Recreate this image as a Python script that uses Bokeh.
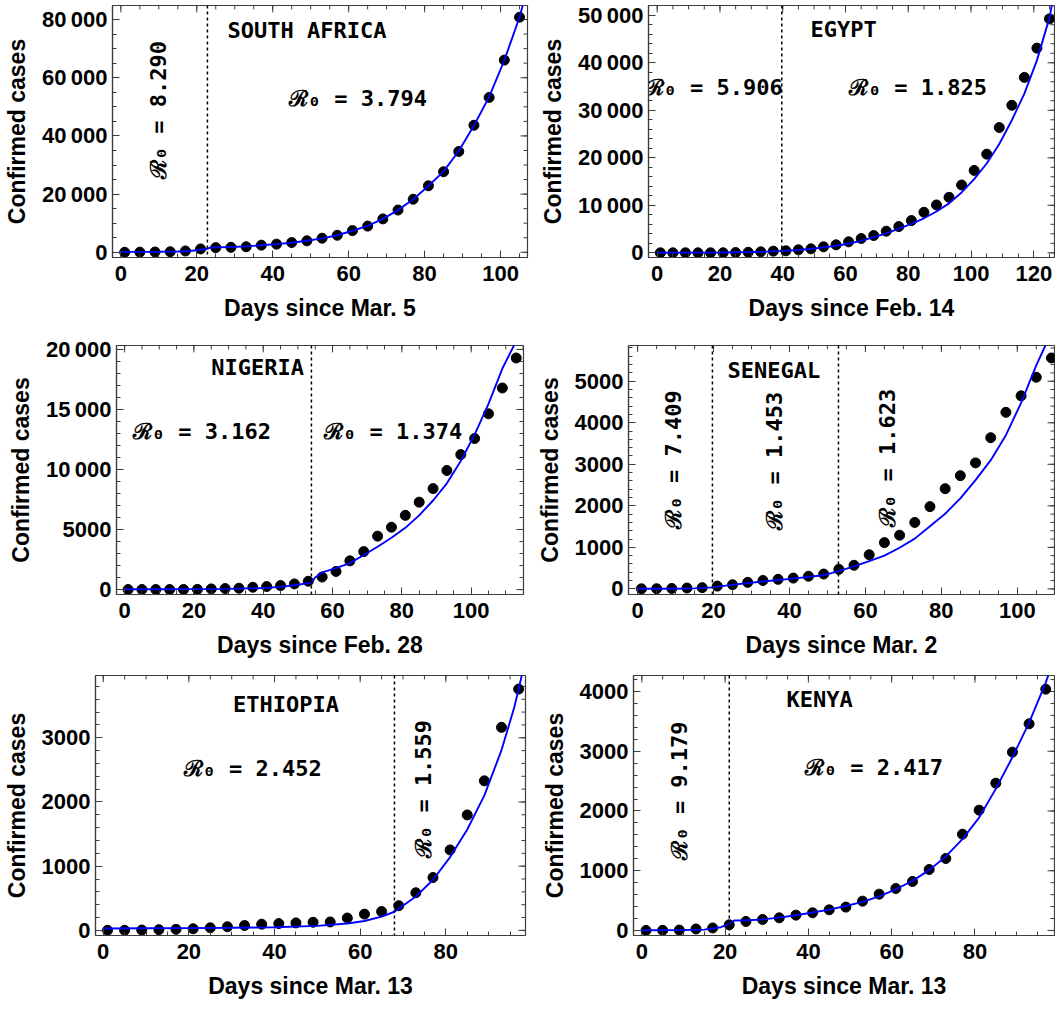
from math import pi
from bokeh.plotting import figure
from bokeh.models import FixedTicker, Span, Range1d
from bokeh.layouts import column, row
from bokeh.embed import file_html
from bokeh.resources import INLINE
from bokeh.core.properties import value

# ---------------- data ----------------
SA_DAYS = [1, 5, 9, 13, 17, 21, 25, 29, 33, 37, 41, 45, 49, 53, 57, 61, 65, 69, 73, 77, 81, 85, 89, 93, 97, 101, 105]
SA_CASES = [10, 40, 100, 200, 450, 1150, 1600, 1700, 1900, 2450, 2800, 3350, 3940, 4850, 5850, 7450, 9000, 11480,
            14520, 18230, 22840, 27680, 34650, 43660, 53220, 66050, 80790]
SA_FIT_DAYS = [0, 10, 15, 18, 20, 22.8, 23.5, 25, 29, 33, 37, 41, 45, 49, 53, 57, 61, 65, 69, 73, 77, 81, 85, 89,
               93, 97, 101, 105, 106.5]
SA_FIT = [150, 180, 280, 450, 700, 1200, 1650, 1700, 1800, 2050, 2400, 2800, 3300, 3950, 4800, 5850, 7400, 9050,
          11500, 14500, 18200, 22800, 27800, 34800, 43600, 53400, 66000, 80800, 88000]
SA_SPLITS = [22.8]

EG_DAYS = [1, 5, 9, 13, 17, 21, 25, 29, 33, 37, 41, 45, 49, 53, 57, 61, 65, 69, 73, 77, 81, 85, 89, 93, 97, 101,
           105, 109, 113, 117, 121, 125]
EG_CASES = [1, 1, 1, 1, 1, 15, 59, 110, 210, 350, 420, 630, 840, 1260, 1680, 2310, 3010, 3640, 4550, 5520, 6780,
            8530, 10070, 11680, 14270, 17340, 20770, 26360, 31050, 36920, 43080, 49230]
EG_FIT_DAYS = [0, 10, 20, 30, 35, 39.7, 45, 50, 55, 60, 65, 69, 73, 77, 81, 85, 89, 93, 97, 101, 105, 109, 113,
               117, 121, 125, 126]
EG_FIT = [20, 40, 80, 170, 260, 400, 600, 900, 1300, 1800, 2500, 3290, 4100, 5100, 6100, 7270, 8700, 10400, 12700,
          15500, 18800, 22900, 27900, 33500, 40500, 49500, 53000]
EG_SPLITS = [39.7]

NG_DAYS = [1, 5, 9, 13, 17, 21, 25, 29, 33, 37, 41, 45, 49, 53, 57, 61, 65, 69, 73, 77, 81, 85, 89, 93, 97, 101,
           105, 109, 113]
NG_CASES = [1, 1, 1, 2, 8, 12, 55, 82, 110, 190, 250, 330, 470, 690, 1040, 1510, 2390, 3160, 4450, 5190, 6180,
            7280, 8410, 9920, 11240, 12580, 14640, 16790, 19290]
NG_FIT_DAYS = [0, 10, 20, 30, 40, 45, 50, 53.9, 55, 57, 61, 65, 69, 73, 77, 81, 85, 89, 93, 97, 101, 105, 109,
               113, 114]
NG_FIT = [20, 25, 35, 60, 130, 220, 400, 580, 1000, 1430, 1790, 2200, 2880, 3570, 4310, 5140, 6180, 7420, 8850,
          10710, 12910, 15470, 18410, 20700, 21400]
NG_SPLITS = [53.9]

SN_DAYS = [1, 5, 9, 13, 17, 21, 25, 29, 33, 37, 41, 45, 49, 53, 57, 61, 65, 69, 73, 77, 81, 85, 89, 93, 97, 101,
           105, 109]
SN_CASES = [1, 4, 10, 20, 30, 67, 100, 157, 202, 230, 260, 305, 358, 470, 568, 822, 1114, 1293, 1600, 1981, 2413,
            2726, 3034, 3640, 4251, 4648, 5096, 5560]
SN_FIT_DAYS = [0, 10, 15, 19.7, 24.7, 32.9, 40.9, 48.9, 52.9, 56.8, 61, 65, 69, 73, 77, 81, 85, 89, 93, 97, 101,
               105, 107.4, 108.5]
SN_FIT = [2, 5, 12, 36, 96, 179, 247, 327, 426, 538, 670, 800, 990, 1210, 1510, 1810, 2180, 2620, 3100, 3700,
          4480, 5380, 5860, 6200]
SN_SPLITS = [19.7, 52.9]

ET_DAYS = [1, 5, 9, 13, 17, 21, 25, 29, 33, 37, 41, 45, 49, 53, 57, 61, 65, 69, 73, 77, 81, 85, 89, 93, 97]
ET_CASES = [1, 1, 5, 10, 16, 25, 40, 56, 76, 96, 106, 116, 126, 131, 192, 253, 293, 384, 586, 823, 1253, 1798,
            2329, 3162, 3758]
ET_FIT_DAYS = [0, 10, 20, 30, 40, 50, 57, 61, 65, 68, 73, 77, 81, 85, 89, 93, 96, 97, 98]
ET_FIT = [30, 32, 35, 40, 48, 70, 106, 146, 215, 290, 526, 788, 1141, 1571, 2102, 2808, 3480, 3760, 4050]
ET_SPLITS = [68]

KE_DAYS = [1, 5, 9, 13, 17, 21, 25, 29, 33, 37, 41, 45, 49, 53, 57, 61, 65, 69, 73, 77, 81, 85, 89, 93, 97]
KE_CASES = [1, 3, 7, 25, 42, 95, 151, 184, 212, 257, 296, 346, 391, 491, 608, 703, 820, 1021, 1205, 1612, 2014,
            2466, 2985, 3459, 4039]
KE_FIT_DAYS = [0, 10, 15, 19, 21, 22.2, 25, 29, 33, 37, 41, 45, 49, 53, 57, 61, 65, 69, 73, 77, 81, 85, 89, 93,
               97, 98]
KE_FIT = [5, 8, 15, 55, 112, 167, 170, 185, 215, 255, 300, 350, 410, 480, 570, 690, 830, 1010, 1240, 1530, 1890,
          2370, 2900, 3480, 4150, 4350]
KE_SPLITS = [21]

TS = "\u2009"
SA_YTICKS = [0, 20000, 40000, 60000, 80000]
SA_YLABELS = ["0", "20" + TS + "000", "40" + TS + "000", "60" + TS + "000", "80" + TS + "000"]
EG_YTICKS = [0, 10000, 20000, 30000, 40000, 50000]
EG_YLABELS = ["0", "10" + TS + "000", "20" + TS + "000", "30" + TS + "000", "40" + TS + "000", "50" + TS + "000"]
NG_YTICKS = [0, 5000, 10000, 15000, 20000]
NG_YLABELS = ["0", "5000", "10" + TS + "000", "15" + TS + "000", "20" + TS + "000"]
SN_YTICKS = [0, 1000, 2000, 3000, 4000, 5000]
SN_YLABELS = ["0", "1000", "2000", "3000", "4000", "5000"]
ET_YTICKS = [0, 1000, 2000, 3000]
ET_YLABELS = ["0", "1000", "2000", "3000"]
KE_YTICKS = [0, 1000, 2000, 3000, 4000]
KE_YLABELS = ["0", "1000", "2000", "3000", "4000"]
X_TICKS_120 = [0, 20, 40, 60, 80, 100, 120]
X_TICKS_100 = [0, 20, 40, 60, 80, 100]
X_TICKS_80 = [0, 20, 40, 60, 80]

R0 = "\u211B\u2080 = "

# ---------------- styling ----------------
FRAME = "#3c3c3c"
AXIS_FONT = "Liberation Sans"
MONO = "DejaVu Sans Mono"
MAJ_LEN = 7
MIN_LEN = 4


def minor_list(lo, hi, step):
    out = []
    v = lo
    while v <= hi + 1e-9:
        out.append(v)
        v += step
    return out


def style_axis(ax, ticker, labels, is_x):
    ax.ticker = ticker
    ax.axis_line_color = FRAME
    ax.axis_line_width = 1.2
    ax.major_tick_line_color = FRAME
    ax.minor_tick_line_color = FRAME
    ax.major_tick_in = MAJ_LEN
    ax.major_tick_out = 0
    ax.minor_tick_in = MIN_LEN
    ax.minor_tick_out = 0
    ax.major_label_text_font = AXIS_FONT
    ax.major_label_text_font_style = "bold"
    ax.major_label_text_font_size = "22px"
    ax.major_label_text_color = "black"
    ax.major_label_standoff = 8 if is_x else 5
    ax.axis_label_text_font = AXIS_FONT
    ax.axis_label_text_font_style = "bold"
    ax.axis_label_text_font_size = "23px"
    ax.axis_label_text_color = "black"
    ax.axis_label_standoff = 11 if is_x else 9
    ax.major_label_overrides = labels


def make_panel(width, height, borders, xr, yr, days, cases, fit_days, fit_vals, splits,
               xticks, xminor, yticks, ylabels, yminor, xlabel, texts):
    left, right, top, bottom = borders
    p = figure(width=width, height=height, x_range=Range1d(*xr), y_range=Range1d(*yr),
               output_backend="svg", toolbar_location=None, title=None,
               min_border_left=left, min_border_right=right, min_border_top=top, min_border_bottom=bottom,
               x_axis_label=xlabel, y_axis_label="Confirmed cases")
    p.xgrid.visible = False
    p.ygrid.visible = False
    p.outline_line_color = FRAME
    p.outline_line_width = 1.2
    p.background_fill_color = "white"
    p.border_fill_color = "white"

    xl = {float(v): str(v) for v in xticks}
    yl = {float(v): s for v, s in zip(yticks, ylabels)}
    style_axis(p.xaxis[0], FixedTicker(ticks=xticks, minor_ticks=xminor), xl, True)
    style_axis(p.yaxis[0], FixedTicker(ticks=yticks, minor_ticks=yminor), yl, False)

    # mirrored inward ticks on the top and right edges of the frame
    fw = width - left - right
    fh = height - top - bottom
    dxp = (xr[1] - xr[0]) / fw
    dyp = (yr[1] - yr[0]) / fh
    tx = [t for t in xminor if xr[0] < t < xr[1]]
    p.segment(x0=tx, y0=[yr[1]] * len(tx), x1=tx, y1=[yr[1] - MIN_LEN * dyp] * len(tx),
              line_color=FRAME, line_width=1)
    tx = [t for t in xticks if xr[0] < t < xr[1]]
    p.segment(x0=tx, y0=[yr[1]] * len(tx), x1=tx, y1=[yr[1] - MAJ_LEN * dyp] * len(tx),
              line_color=FRAME, line_width=1)
    ty = [t for t in yminor if yr[0] < t < yr[1]]
    p.segment(x0=[xr[1]] * len(ty), y0=ty, x1=[xr[1] - MIN_LEN * dxp] * len(ty), y1=ty,
              line_color=FRAME, line_width=1)
    ty = [t for t in yticks if yr[0] < t < yr[1]]
    p.segment(x0=[xr[1]] * len(ty), y0=ty, x1=[xr[1] - MAJ_LEN * dxp] * len(ty), y1=ty,
              line_color=FRAME, line_width=1)

    for s in splits:
        p.add_layout(Span(location=s, dimension="height", line_color="black", line_width=1.5,
                          line_dash="3 3"))

    p.scatter(days, cases, size=10, color="black")
    p.line(fit_days, fit_vals, line_color="#0000ff", line_width=1.9)

    for (tx_, ty_, txt, rot) in texts:
        p.text(x=[tx_], y=[ty_], text=[txt], angle=(pi / 2 if rot else 0),
               text_align="center", text_baseline="middle",
               text_font=value(MONO), text_font_style="bold", text_font_size="22px",
               text_color="black")
    return p


p1 = make_panel(530, 325, (112, 3, 0, 68), (-2.2, 107.1), (-1790, 84820),
                SA_DAYS, SA_CASES, SA_FIT_DAYS, SA_FIT, SA_SPLITS,
                X_TICKS_100, minor_list(0, 105, 5), SA_YTICKS, SA_YLABELS, minor_list(0, 80000, 5000),
                "Days since Mar. 5",
                [(49.0, 76100, "SOUTH AFRICA", False), (62.4, 52850, R0 + "3.794", False),
                 (9.8, 48900, R0 + "8.290", True)])

p2 = make_panel(525, 325, (118, 1, 5, 67), (-2.77, 126.6), (-986, 52050),
                EG_DAYS, EG_CASES, EG_FIT_DAYS, EG_FIT, EG_SPLITS,
                X_TICKS_120, minor_list(0, 125, 5), EG_YTICKS, EG_YLABELS, minor_list(0, 52000, 2000),
                "Days since Feb. 14",
                [(59.4, 46930, "EGYPT", False), (18.0, 34770, R0 + "5.906", False),
                 (83.1, 34770, R0 + "1.825", False)])

p3 = make_panel(530, 335, (116, 7, 20, 63), (-2.34, 115.1), (-412, 20330),
                NG_DAYS, NG_CASES, NG_FIT_DAYS, NG_FIT, NG_SPLITS,
                X_TICKS_100, minor_list(0, 115, 5), NG_YTICKS, NG_YLABELS, minor_list(0, 20000, 1000),
                "Days since Feb. 28",
                [(38.4, 18466, "NIGERIA", False), (22.3, 13140, R0 + "3.162", False),
                 (77.5, 13140, R0 + "1.374", False)])

p4 = make_panel(525, 335, (98, 1, 6, 62), (-2.4, 109.8), (-135, 5860),
                SN_DAYS, SN_CASES, SN_FIT_DAYS, SN_FIT, SN_SPLITS,
                X_TICKS_100, minor_list(0, 105, 5), SN_YTICKS, SN_YLABELS, minor_list(0, 5800, 200),
                "Days since Mar. 2",
                [(35.9, 5260, "SENEGAL", False), (9.5, 3117, R0 + "7.409", True),
                 (36.0, 3080, R0 + "1.453", True), (65.7, 3154, R0 + "1.623", True)])

p5 = make_panel(530, 350, (95, 5, 10, 73), (-1.8, 98.6), (-80, 3970),
                ET_DAYS, ET_CASES, ET_FIT_DAYS, ET_FIT, ET_SPLITS,
                X_TICKS_80, minor_list(0, 95, 5), ET_YTICKS, ET_YLABELS, minor_list(0, 3800, 200),
                "Days since Mar. 13",
                [(42.7, 3526, "ETHIOPIA", False), (34.9, 2515, R0 + "2.452", False),
                 (74.8, 2202, R0 + "1.559", True)])

p6 = make_panel(525, 350, (103, 1, 15, 75), (-2.0, 99.1), (-84, 4268),
                KE_DAYS, KE_CASES, KE_FIT_DAYS, KE_FIT, KE_SPLITS,
                X_TICKS_80, minor_list(0, 95, 5), KE_YTICKS, KE_YLABELS, minor_list(0, 4200, 200),
                "Days since Mar. 13",
                [(42.7, 3860, "KENYA", False), (55.7, 2734, R0 + "2.417", False),
                 (9.0, 2343, R0 + "9.179", True)])

layout = column(row(p1, p2), row(p3, p4), row(p5, p6))

with open("out.html", "w") as f:
    f.write(file_html(layout, INLINE))
